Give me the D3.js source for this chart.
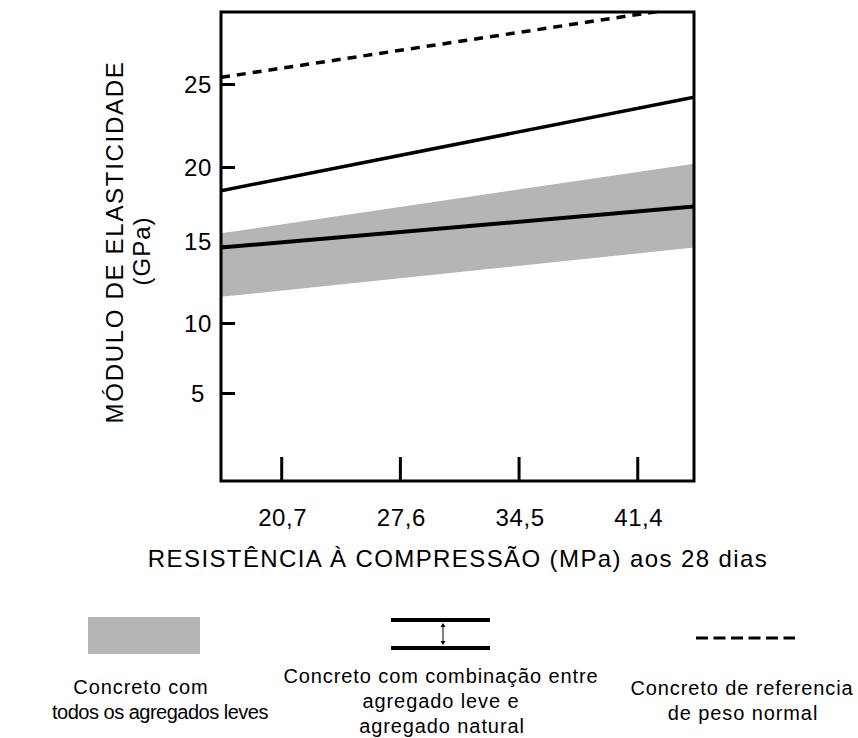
<!DOCTYPE html>
<html>
<head>
<meta charset="utf-8">
<script src="https://cdn.jsdelivr.net/npm/d3@7"></script>
<style>
  body { margin: 0; background: #fff; }
  svg { display: block; font-family: "Liberation Sans", Arial, sans-serif; }
  .axis text { font-size: 24px; letter-spacing: 0.6px; fill: #000; }
  .axis line { stroke: #000; stroke-width: 3; }
  .legend text { font-size: 20px; letter-spacing: 0.9px; fill: #000; }
</style>
</head>
<body>
<svg id="chart" width="858" height="738"></svg>
<script>
// compressive strength at 28 days (MPa)
var xExtent = [17.2, 44.7];
var xTicks = [20.7, 27.6, 34.5, 41.4];
// modulus of elasticity (GPa); the drawing's axis is not evenly spaced
var yTicks = [5, 10, 15, 20, 25];
var yBreaks = [5, 10, 15, 20, 25, 30];

// values at the left and right edge of the plot
var lightBandLow = [11.7, 14.9];
var lightBandHigh = [15.8, 20.2];
var mixedLow = [14.9, 17.5];
var mixedHigh = [18.5, 24.2];
var normalWeight = [25.4, 29.7];

var legendLabels = [
    ["Concreto com", "todos os agregados leves"],
    ["Concreto com combinação entre", "agregado leve e", "agregado natural"],
    ["Concreto de referencia", "de peso normal"],
    ];

var grey = "#b5b5b5";
var plot = {left: 221, right: 694, top: 12, bottom: 481};

var svg = d3.select("#chart");

var x = d3.scaleLinear().domain(xExtent).range([plot.left, plot.right]);
var y = d3.scaleLinear().domain(yBreaks).range([393, 323, 246, 167, 84, 1]);

function pts(values) {
    return xExtent.map(function(xv, i) { return [xv, values[i]]; });
}

svg.append("clipPath").attr("id", "plotClip")
    .append("rect")
    .attr("x", plot.left).attr("y", plot.top)
    .attr("width", plot.right - plot.left)
    .attr("height", plot.bottom - plot.top);

var body = svg.append("g").attr("clip-path", "url(#plotClip)");

var area = d3.area()
    .x(function(d) { return x(d[0]); })
    .y0(function(d) { return y(d[1]); })
    .y1(function(d) { return y(d[2]); });

body.append("path")
    .datum(xExtent.map(function(xv, i) { return [xv, lightBandLow[i], lightBandHigh[i]]; }))
    .attr("d", area)
    .attr("fill", grey);

var line = d3.line()
    .x(function(d) { return x(d[0]); })
    .y(function(d) { return y(d[1]); });

body.append("path").datum(pts(mixedLow))
    .attr("d", line).attr("fill", "none")
    .attr("stroke", "#000").attr("stroke-width", 4);
body.append("path").datum(pts(mixedHigh))
    .attr("d", line).attr("fill", "none")
    .attr("stroke", "#000").attr("stroke-width", 3.5);
body.append("path").datum(pts(normalWeight))
    .attr("d", line).attr("fill", "none")
    .attr("stroke", "#000").attr("stroke-width", 3.5)
    .attr("stroke-dasharray", "9,7");

// axes (ticks point inward)
var yAxis = svg.append("g")
    .attr("class", "axis")
    .attr("transform", "translate(" + plot.left + ",0)")
    .call(d3.axisLeft(y).tickValues(yTicks).tickSize(-14).tickFormat(d3.format("d")));
yAxis.select(".domain").remove();
yAxis.selectAll("text")
    .attr("x", -23)
    .attr("dy", function(d) { return d == 15 ? "0.15em" : "0.35em"; })
    .attr("text-anchor", "middle");

var xAxis = svg.append("g")
    .attr("class", "axis")
    .attr("transform", "translate(0," + plot.bottom + ")")
    .call(d3.axisBottom(x).tickValues(xTicks).tickSize(-24)
        .tickFormat(function(d) { return d.toFixed(1).replace(".", ","); }));
xAxis.select(".domain").remove();
xAxis.selectAll("text").attr("y", 45).attr("dy", 0).attr("dx", 1);

svg.append("rect")
    .attr("x", plot.left).attr("y", plot.top)
    .attr("width", plot.right - plot.left)
    .attr("height", plot.bottom - plot.top)
    .attr("fill", "none").attr("stroke", "#000").attr("stroke-width", 3);

svg.append("text")
    .attr("x", 458).attr("y", 567)
    .attr("text-anchor", "middle")
    .style("font-size", "24px").style("letter-spacing", "1.4px")
    .text("RESISTÊNCIA À COMPRESSÃO (MPa) aos 28 dias");

svg.append("text")
    .attr("transform", "translate(123,242) rotate(-90)")
    .attr("text-anchor", "middle")
    .style("font-size", "24px").style("letter-spacing", "1.7px")
    .text("MÓDULO DE ELASTICIDADE");
svg.append("text")
    .attr("transform", "translate(150,251) rotate(-90)")
    .attr("text-anchor", "middle")
    .style("font-size", "24px").style("letter-spacing", "1px")
    .text("(GPa)");

// legend
var legend = svg.append("g").attr("class", "legend");

legend.append("rect")
    .attr("x", 88).attr("y", 617).attr("width", 112).attr("height", 37)
    .attr("fill", grey);

[620, 648].forEach(function(ly) {
    legend.append("line")
        .attr("x1", 391).attr("x2", 490).attr("y1", ly).attr("y2", ly)
        .attr("stroke", "#000").attr("stroke-width", 4);
});
legend.append("line")
    .attr("x1", 443).attr("x2", 443).attr("y1", 624).attr("y2", 644)
    .attr("stroke", "#000").attr("stroke-width", 1);
legend.append("path")
    .attr("d", "M440.5,627L443,623L445.5,627ZM440.5,641L443,645L445.5,641Z")
    .attr("fill", "#000");

legend.append("line")
    .attr("x1", 696).attr("x2", 795).attr("y1", 638).attr("y2", 638)
    .attr("stroke", "#000").attr("stroke-width", 3)
    .attr("stroke-dasharray", "12,5.5");

var legendPos = [
    {xs: [141, 160], y0: 694, spacing: [0.9, -0.5]},
    {xs: [441, 441, 442], y0: 683, spacing: [0.9, 0.9, 0.9]},
    {xs: [742, 743], y0: 695, spacing: [0.9, 0.9]},
    ];

legendLabels.forEach(function(lines, i) {
    lines.forEach(function(t, j) {
        legend.append("text")
            .attr("x", legendPos[i].xs[j])
            .attr("y", legendPos[i].y0 + j * 25)
            .attr("text-anchor", "middle")
            .style("letter-spacing", legendPos[i].spacing[j] + "px")
            .text(t);
    });
});
</script>
</body>
</html>
